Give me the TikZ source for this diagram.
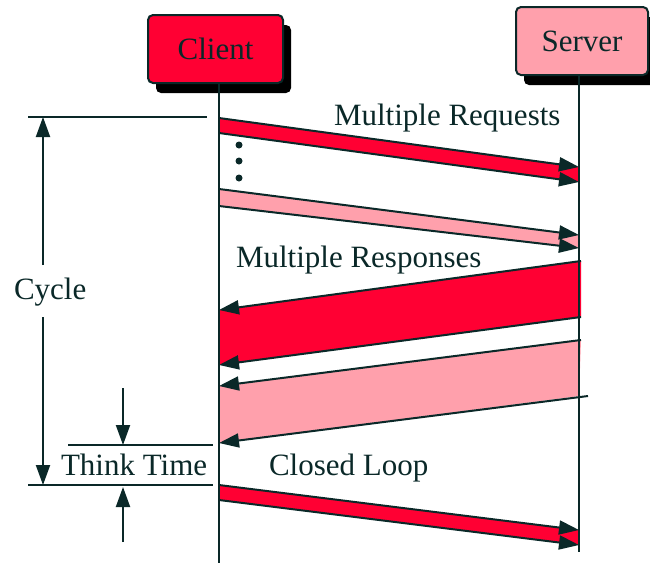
\documentclass[tikz,border=0pt]{standalone}
\usepackage{fontspec}
\setmainfont{Liberation Serif}
\usetikzlibrary{arrows.meta,shadows}
\definecolor{ink}{RGB}{10,40,40}
\definecolor{msgred}{RGB}{255,0,51}
\definecolor{msgpink}{RGB}{255,160,172}
\begin{document}
\begin{tikzpicture}[x=1pt, y=-1pt, line width=2pt, color=ink, >={Triangle[length=20pt,width=14pt]},
  host node/.style={rectangle, rounded corners=5pt, draw=ink, minimum width=135pt, minimum height=68pt,
    drop shadow={shadow xshift=8pt, shadow yshift=-10pt, fill=black, opacity=1}},
  label node/.style={anchor=base west, inner sep=0pt}]
\useasboundingbox (0,0) rectangle (650,563);
\begin{scope}[every node/.style={font=\fontsize{31}{36}\selectfont}]
\node[host node, fill=msgred] (client) at (215.5,49) {Client};
\node[host node, fill=msgpink, minimum width=132pt] (server) at (582,41) {Server};
\node[label node] (requests) at (333,125) {Multiple Requests};
\node[label node] (responses) at (235,267) {Multiple Responses};
\node[label node] (closed) at (268,475) {Closed Loop};
\node[label node] (think) at (60,475) {Think Time};
\node[label node] (cycle) at (13,299) {Cycle};
\end{scope}
% lifelines
\coordinate (cend) at (219,563);
\coordinate (send) at (579,552);
% message bands: c = client side, s = server side, t/b = top/bottom edge
\coordinate (c1t) at (219,118); \coordinate (s1t) at (579,167);
\coordinate (c1b) at (219,133); \coordinate (s1b) at (579,182);
\coordinate (c2t) at (219,189); \coordinate (s2t) at (579,235);
\coordinate (c2b) at (219,206); \coordinate (s2b) at (579,248);
\coordinate (s3t) at (581,261); \coordinate (c3t) at (219,310);
\coordinate (s3b) at (581,317); \coordinate (c3b) at (219,365);
\coordinate (s4t) at (581,340); \coordinate (c4t) at (219,386);
\coordinate (s4b) at (588,396); \coordinate (c4b) at (219,443);
\coordinate (c5t) at (219,485); \coordinate (s5t) at (579,530);
\coordinate (c5b) at (219,500); \coordinate (s5b) at (579,545);
\fill[msgred] (c1t) -- (s1t) -- (s1b) -- (c1b) -- cycle;
\fill[msgpink] (c2t) -- (s2t) -- (s2b) -- (c2b) -- cycle;
\fill[msgred] (s3t) -- (c3t) -- (c3b) -- (s3b) -- cycle;
\fill[msgpink] (s4t) -- (c4t) -- (c4b) -- (s4b -| send) -- cycle;
\fill[msgred] (c5t) -- (s5t) -- (s5b) -- (c5b) -- cycle;
\draw (client.south -| cend) -- (cend);
\draw (server.south -| send) -- (send);
\foreach \y in {145,161,178}
  \fill (239,\y) circle (3.5pt);
\draw[->] (c1t) -- (s1t);
\draw[->] (c1b) -- (s1b);
\draw[->] (c2t) -- (s2t);
\draw[->] (c2b) -- (s2b);
\draw[->] (s3t) -- (c3t);
\draw[->] (s3b) -- (c3b);
\draw[->] (s4t) -- (c4t);
\draw[->] (s4b) -- (c4b);
\draw[->] (c5t) -- (s5t);
\draw[->] (c5b) -- (s5b);
% cycle and think time
\coordinate (cycstart) at (28,117);  \coordinate (cycstop) at (207,117);
\coordinate (loopstart) at (28,485); \coordinate (loopstop) at (213,485);
\coordinate (thinkstart) at (68,445); \coordinate (thinkstop) at (213,445);
\draw (cycstart) -- (cycstop);
\draw (loopstart) -- (loopstop);
\draw (thinkstart) -- (thinkstop);
\coordinate (cyctop) at (43,117);
\coordinate (cycbot) at (43,485);
\coordinate (cycup) at (43,265);
\coordinate (cycdown) at (43,317);
\draw[->] (cycup) -- (cyctop);
\draw[->] (cycdown) -- (cycbot);
\coordinate (thinkin) at (123,388);
\coordinate (thinktop) at (123,445);
\coordinate (thinkout) at (123,542);
\coordinate (thinkbot) at (123,487);
\draw[->] (thinkin) -- (thinktop);
\draw[->] (thinkout) -- (thinkbot);
\end{tikzpicture}
\end{document}
